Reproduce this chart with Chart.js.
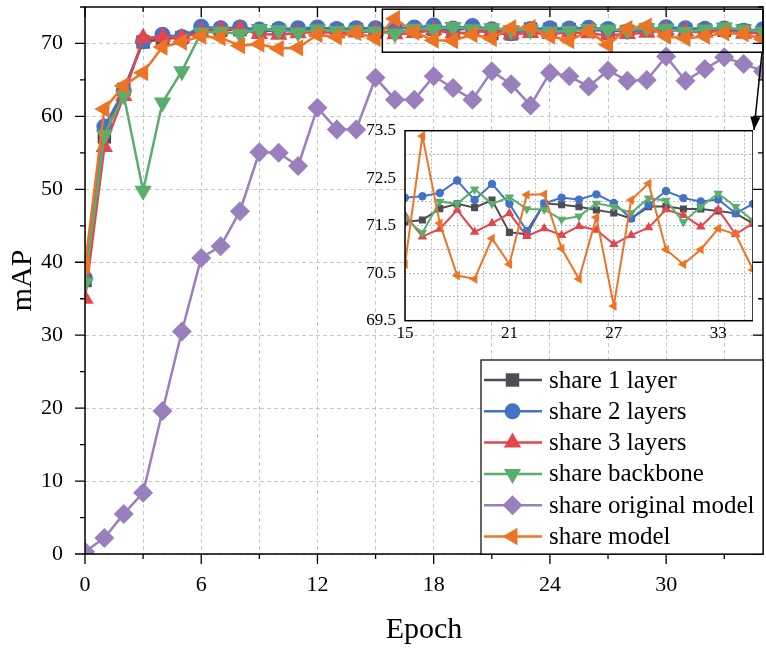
<!DOCTYPE html>
<html><head><meta charset="utf-8">
<script src="https://cdn.jsdelivr.net/npm/chart.js@4.4.1/dist/chart.umd.min.js"></script>
<style>
html,body{margin:0;padding:0;background:#fff;}
#wrap{position:relative;width:766px;height:650px;overflow:hidden;}
#main{position:absolute;left:0;top:0;}
#inset{position:absolute;left:355px;top:115px;}
</style></head><body>
<div id="wrap"><canvas id="main" width="766" height="650"></canvas><canvas id="inset" width="398" height="240"></canvas></div>
<script>
// ---------- DATA ----------
const EPOCHS = [0,1,2,3,4,5,6,7,8,9,10,11,12,13,14,15,16,17,18,19,20,21,22,23,24,25,26,27,28,29,30,31,32,33,34,35];
const SHARE_1_LAYER = [37.5,57.2,63.7,70.2,70.6,70.8,71.9,71.8,71.9,71.7,71.8,71.7,71.9,71.8,71.9,
  71.58,71.62,71.86,71.96,71.88,72.04,71.36,71.32,71.97,71.94,71.90,71.83,71.77,71.65,71.90,71.91,71.85,71.85,71.81,71.76,71.55];
const SHARE_2_LAYERS = [37.8,58.6,63.5,70.3,71.2,70.9,72.3,72.1,72.2,71.9,72.0,72.1,72.2,72.0,72.1,
  72.09,72.12,72.19,72.45,72.04,72.38,71.96,71.39,71.97,72.09,72.05,72.16,71.98,71.65,71.94,72.23,72.08,72.01,72.05,71.76,71.96];
const SHARE_3_LAYERS = [35.0,55.8,62.8,70.8,70.9,70.8,71.6,71.9,72.0,71.3,71.2,71.4,71.6,71.4,71.5,
  71.72,71.27,71.43,71.83,71.37,71.55,71.76,71.28,71.44,71.30,71.49,71.41,71.11,71.30,71.46,71.84,71.72,71.48,71.84,71.32,71.55];
const SHARE_BACKBONE = [37.2,57.5,62.9,49.8,61.9,66.2,71.5,71.6,71.3,72.0,71.8,71.5,71.9,71.7,71.8,
  71.65,71.35,72.01,71.96,72.27,71.96,72.10,71.85,71.84,71.63,71.70,71.97,71.90,71.77,72.08,72.03,71.58,71.90,72.18,71.90,71.61];
const SHARE_ORIGINAL_MODEL = [0.3,2.2,5.5,8.4,19.6,30.5,40.6,42.2,47.0,55.1,55.0,53.2,61.2,58.2,58.2,
  65.3,62.3,62.3,65.5,63.9,62.3,66.2,64.4,61.5,66.0,65.5,64.1,66.3,64.9,65.0,68.2,64.9,66.5,68.1,67.2,66.2];
const SHARE_MODEL = [39.5,61.0,64.2,66.0,69.5,70.2,71.0,70.8,69.7,69.9,69.3,69.4,71.2,70.9,71.5,
  70.69,73.39,71.55,70.45,70.38,71.23,70.69,72.15,72.16,71.02,70.38,71.68,69.81,72.04,72.39,71.00,70.69,71.00,71.44,71.32,70.57];
const SERIES_NAMES = ['share 1 layer','share 2 layers','share 3 layers','share backbone','share original model','share model'];
const X_TICK_LABELS = [0,6,12,18,24,30];
const Y_TICK_LABELS = [0,10,20,30,40,50,60,70];
const INSET_X_TICK_LABELS = [15,21,27,33];
const INSET_Y_TICK_LABELS = [69.5,70.5,71.5,72.5,73.5];
const INSET_FROM_EPOCH = 15;

// ---------- STYLE ----------
const SERIES_VALUES = [SHARE_1_LAYER,SHARE_2_LAYERS,SHARE_3_LAYERS,SHARE_BACKBONE,SHARE_ORIGINAL_MODEL,SHARE_MODEL];
const STYLES = [
  {color:'#4d4d55', pointStyle:'rect',     rot:0,   r:9.5, ir:5,   order:5},
  {color:'#4472c4', pointStyle:'circle',   rot:0,   r:8,   ir:4.2, order:4},
  {color:'#e3464c', pointStyle:'triangle', rot:0,   r:10,  ir:5.5, order:3},
  {color:'#5aae6d', pointStyle:'triangle', rot:180, r:10,  ir:5.5, order:2},
  {color:'#9a7fbd', pointStyle:'rectRot',  rot:0,   r:10,  ir:5,   order:1},
  {color:'#ec7424', pointStyle:'triangle', rot:270, r:10,  ir:5.5, order:0}
];
const SERIF = "'Liberation Serif','Times New Roman',serif";

function mkDatasets(fromEpoch, inset){
  const out = [];
  SERIES_VALUES.forEach((vals, k) => {
    if (inset && k === 4) return;
    const st = STYLES[k];
    const pts = [];
    EPOCHS.forEach((e,i) => { if (e >= fromEpoch) pts.push({x:e, y:vals[i]}); });
    out.push({
      label: SERIES_NAMES[k], data: pts,
      borderColor: st.color, backgroundColor: st.color,
      pointStyle: st.pointStyle, pointRotation: st.rot,
      pointRadius: inset ? st.ir : st.r, pointBorderWidth: 0, pointHoverRadius: 0,
      borderWidth: inset ? 2 : 2.5, order: st.order, clip: 0, tension: 0
    });
  });
  return out;
}
function fixH(h){ return s => { s.height = h; s.paddingLeft = 0; s.paddingRight = 0; }; }
function fixW(w){ return s => { s.width = w; s.paddingTop = 0; s.paddingBottom = 0; }; }

// ---------- MAIN CHART ----------
const mainPlugin = {
  id: 'mainDecor',
  afterDraw(chart){
    const {ctx, chartArea: ca, scales:{x, y}} = chart;
    ctx.save();
    ctx.strokeStyle = '#000';
    ctx.lineWidth = 1.5;
    ctx.setLineDash([]);
    ctx.strokeRect(ca.left, ca.top, ca.right - ca.left, ca.bottom - ca.top);
    // ticks
    ctx.lineWidth = 1.3;
    ctx.beginPath();
    for (let v = 0; v <= 35; v += 3) {
      const px = x.getPixelForValue(v);
      const len = (v % 6 === 0) ? 10 : 5;
      ctx.moveTo(px, ca.bottom); ctx.lineTo(px, ca.bottom + len);
      ctx.moveTo(px, ca.top); ctx.lineTo(px, ca.top + len);
    }
    for (let v = 0; v <= 75; v += 5) {
      const py = y.getPixelForValue(v);
      const len = (v % 10 === 0) ? 10 : 5;
      ctx.moveTo(ca.left, py); ctx.lineTo(ca.left - len, py);
      ctx.moveTo(ca.right, py); ctx.lineTo(ca.right - len, py);
    }
    ctx.stroke();
    // zoom box
    const bx0 = x.getPixelForValue(15.35), bx1 = x.getPixelForValue(35);
    const by0 = y.getPixelForValue(74.7), by1 = y.getPixelForValue(68.8);
    ctx.lineWidth = 1.5;
    ctx.strokeRect(bx0, by0, bx1 - bx0, by1 - by0);
    // arrow to inset
    const ax0 = bx1 - 1, ay0 = by1, ax1 = 754, ay1 = 130;
    ctx.beginPath(); ctx.moveTo(ax0, ay0); ctx.lineTo(ax1, ay1); ctx.stroke();
    const ang = Math.atan2(ay1 - ay0, ax1 - ax0);
    ctx.beginPath();
    ctx.moveTo(ax1, ay1);
    ctx.lineTo(ax1 - 13*Math.cos(ang) + 5*Math.sin(ang), ay1 - 13*Math.sin(ang) - 5*Math.cos(ang));
    ctx.lineTo(ax1 - 13*Math.cos(ang) - 5*Math.sin(ang), ay1 - 13*Math.sin(ang) + 5*Math.cos(ang));
    ctx.closePath(); ctx.fillStyle = '#000'; ctx.fill();
    // legend
    const lx0 = 481, ly0 = 360, lx1 = ca.right, ly1 = ca.bottom;
    ctx.fillStyle = '#fff';
    ctx.fillRect(lx0, ly0, lx1 - lx0, ly1 - ly0);
    ctx.lineWidth = 1.2;
    ctx.strokeStyle = '#000';
    ctx.strokeRect(lx0, ly0, lx1 - lx0, ly1 - ly0);
    ctx.font = '25px ' + SERIF;
    ctx.textBaseline = 'middle';
    ctx.textAlign = 'left';
    SERIES_NAMES.forEach((name, k) => {
      const st = STYLES[k];
      const cy = 380 + k * 31.3;
      ctx.strokeStyle = st.color; ctx.lineWidth = 2.5;
      ctx.beginPath(); ctx.moveTo(484, cy); ctx.lineTo(542, cy); ctx.stroke();
      ctx.fillStyle = st.color;
      Chart.helpers.drawPoint(ctx, {pointStyle: st.pointStyle, rotation: st.rot, radius: st.r, borderWidth: 0}, 512.5, cy);
      ctx.fillStyle = '#000';
      ctx.fillText(name, 549, cy + 1);
    });
    ctx.restore();
  }
};

new Chart(document.getElementById('main'), {
  type: 'line',
  data: { datasets: mkDatasets(0, false) },
  options: {
    responsive: false, animation: false, events: [],
    layout: { autoPadding: false, padding: { top: 7, right: 3, left: 0, bottom: 0 } },
    plugins: { legend: { display: false }, tooltip: { enabled: false } },
    scales: {
      x: {
        type: 'linear', min: 0, max: 35,
        ticks: { stepSize: 3, includeBounds: false, autoSkip: false, maxRotation: 0,
          callback: v => X_TICK_LABELS.includes(v) ? String(v) : '',
          font: { family: SERIF, size: 22 }, color: '#000', padding: 18 },
        grid: { color: '#c8c8c8', lineWidth: 1, drawTicks: false },
        border: { display: false, dash: [4, 3] },
        afterFit: fixH(96),
        title: { display: true, text: 'Epoch', font: { family: SERIF, size: 30 }, color: '#000', padding: { top: 0, bottom: 2 } }
      },
      y: {
        type: 'linear', min: 0, max: 75,
        ticks: { stepSize: 10, includeBounds: false, autoSkip: false,
          callback: v => Y_TICK_LABELS.includes(v) ? String(v) : '',
          font: { family: SERIF, size: 22 }, color: '#000', padding: 22 },
        grid: { color: '#c8c8c8', lineWidth: 1, drawTicks: false },
        border: { display: false, dash: [4, 3] },
        afterFit: fixW(85),
        title: { display: true, text: 'mAP', font: { family: SERIF, size: 30 }, color: '#000', padding: { top: 5, bottom: 0 } }
      }
    }
  },
  plugins: [mainPlugin]
});

// ---------- INSET CHART ----------
const insetPlugin = {
  id: 'insetDecor',
  beforeDraw(chart){
    const {ctx, chartArea: ca} = chart;
    ctx.save(); ctx.fillStyle = '#fff';
    ctx.fillRect(ca.left, ca.top, ca.right - ca.left, ca.bottom - ca.top);
    ctx.restore();
  },
  afterDraw(chart){
    const {ctx, chartArea: ca} = chart;
    ctx.save(); ctx.strokeStyle = '#000'; ctx.lineWidth = 1.5;
    ctx.strokeRect(ca.left, ca.top, ca.right - ca.left, ca.bottom - ca.top);
    ctx.restore();
  }
};
const near = (arr, v) => arr.some(a => Math.abs(a - v) < 1e-6);
new Chart(document.getElementById('inset'), {
  type: 'line',
  data: { datasets: mkDatasets(INSET_FROM_EPOCH, true) },
  options: {
    responsive: false, animation: false, events: [],
    layout: { autoPadding: false, padding: { top: 15.7, right: 0, left: 0, bottom: 0 } },
    plugins: { legend: { display: false }, tooltip: { enabled: false } },
    scales: {
      x: {
        type: 'linear', min: 15, max: 35,
        ticks: { stepSize: 1.5, includeBounds: false, autoSkip: false, maxRotation: 0,
          callback: v => near(INSET_X_TICK_LABELS, v) ? String(Math.round(v)) : '',
          font: { family: SERIF, size: 17 }, color: '#000', padding: 3 },
        grid: { color: '#b8b8b8', lineWidth: 1, drawTicks: false },
        border: { display: false, dash: [2, 2] },
        afterFit: fixH(34.3)
      },
      y: {
        type: 'linear', min: 69.5, max: 73.5,
        ticks: { stepSize: 0.5, autoSkip: false,
          callback: v => near(INSET_Y_TICK_LABELS, v) ? v.toFixed(1) : '',
          font: { family: SERIF, size: 17 }, color: '#000', padding: 9 },
        grid: { color: '#b8b8b8', lineWidth: 1, drawTicks: false },
        border: { display: false, dash: [2, 2] },
        afterFit: fixW(50)
      }
    }
  },
  plugins: [insetPlugin]
});
</script>
</body></html>
